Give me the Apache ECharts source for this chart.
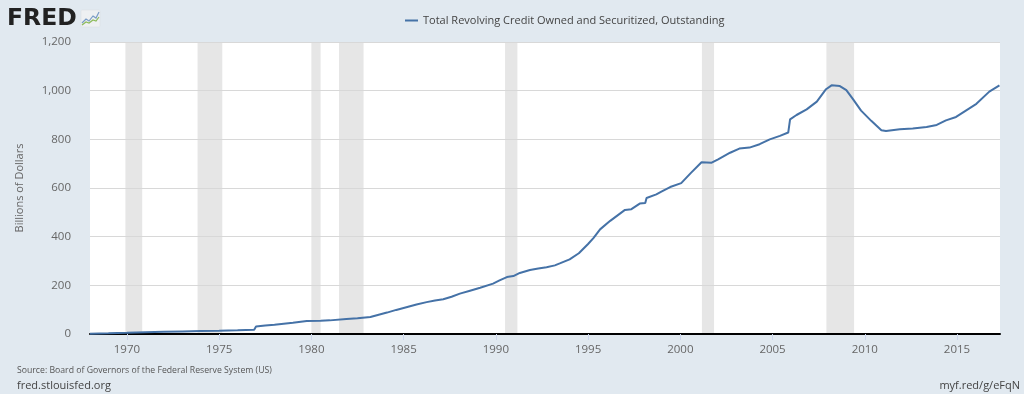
<!DOCTYPE html>
<html>
<head>
<meta charset="utf-8">
<script src="https://cdn.jsdelivr.net/npm/echarts@6/dist/echarts.min.js"></script>
<style>
html,body{margin:0;padding:0;background:#e1e9f0;}
#chart{width:1024px;height:394px;}
</style>
</head>
<body>
<div id="chart"></div>
<script>
// ---- data ----
const seriesName = 'Total Revolving Credit Owned and Securitized, Outstanding';
const dates = [1968.0,1969.0,1970.0,1971.0,1972.0,1973.0,1974.0,1975.0,1976.0,1976.9,1977.0,1977.5,1978.0,1978.5,1979.0,1979.75,1980.5,1981.0,1981.9,1982.5,1983.2,1983.6,1984.1,1984.6,1985.2,1985.7,1986.25,1986.7,1987.15,1987.6,1988.05,1988.6,1989.15,1989.85,1990.2,1990.6,1990.95,1991.3,1991.85,1992.3,1992.75,1993.2,1993.5,1994.0,1994.5,1995.0,1995.3,1995.65,1996.2,1996.8,1997.0,1997.35,1997.8,1998.1,1998.17,1998.7,1999.0,1999.45,2000.05,2000.55,2001.15,2001.7,2002.05,2002.7,2003.2,2003.75,2004.3,2004.85,2005.4,2005.85,2005.95,2006.3,2006.85,2007.4,2007.9,2008.2,2008.65,2009.0,2009.35,2009.8,2010.35,2010.9,2011.15,2011.9,2012.6,2013.35,2013.9,2014.4,2014.95,2015.5,2016.05,2016.75,2017.3];
const values = [1.5,3,5,7.5,9,10.5,12,13.5,15.5,17.5,31,35,38,42,46,53,54,56,62,65,70,78,88,99,111,121,131,138,143,153,166,178,190,207,220,234,238,251,263,269,274,282,291,307,332,370,395,430,465,499,510,513,536,538,559,574,586,604,620,660,706,704,718,745,762,766,780,800,814,828,882,900,923,955,1006,1022,1019,1002,966,918,876,837,834,841,845,851,859,878,892,919,946,996,1022];
const recessionStart = [1969.92,1973.83,1980.0,1981.5,1990.5,2001.17,2007.92];
const recessionEnd   = [1970.83,1975.17,1980.5,1982.83,1991.17,2001.83,2009.42];
const xTickYears = [1970,1975,1980,1985,1990,1995,2000,2005,2010,2015];
const yTicks = [0,200,400,600,800,1000,1200];

const FONT = '"Open Sans", "DejaVu Sans", sans-serif';
const chart = echarts.init(document.getElementById('chart'), null, {renderer:'canvas'});

const lineData = dates.map((d,i)=>[d, values[i]]);
const bands = recessionStart.map((s,i)=>[{xAxis:s},{xAxis:recessionEnd[i]}]);

chart.setOption({
  backgroundColor:'#e1e9f0',
  animation:false,
  textStyle:{fontFamily:FONT},
  grid:{left:90,right:24,top:42,bottom:60,show:true,backgroundColor:'#ffffff',borderWidth:0},
  legend:{
    data:[seriesName], left:400, top:10, icon:'rect', itemWidth:13, itemHeight:2, itemGap:5,
    textStyle:{fontFamily:FONT,fontSize:11,color:'#444'}
  },
  xAxis:{
    type:'value', min:1968, max:2017.33, z:3,
    splitLine:{show:false},
    axisLine:{show:true,onZero:false,lineStyle:{color:'#000',width:2}},
    axisTick:{show:true,customValues:xTickYears,length:6,lineStyle:{color:'#ccd6eb',width:1}},
    axisLabel:{customValues:xTickYears,formatter:v=>String(Math.round(v)),color:'#666',fontSize:11.5,margin:10,fontFamily:FONT}
  },
  yAxis:{
    type:'value', min:yTicks[0], max:yTicks[yTicks.length-1], interval:200, z:3,
    name:'Billions of Dollars', nameLocation:'middle', nameGap:65,
    nameTextStyle:{fontFamily:FONT,fontSize:11,color:'#666'},
    axisLine:{show:false}, axisTick:{show:false},
    axisLabel:{color:'#666',fontSize:11.5,margin:19,fontFamily:FONT,formatter:v=>v.toLocaleString('en-US')},
    splitLine:{show:true,lineStyle:{color:'#d8d8d8',width:1}}
  },
  series:[{
    name:'recessions', type:'line', data:[], z:1, silent:true,
    markArea:{silent:true,itemStyle:{color:'#e6e6e6'},data:bands}
  },{
    name:seriesName, type:'line', data:lineData, showSymbol:false, symbol:'none',
    lineStyle:{color:'#4572a7',width:2}, itemStyle:{color:'#4572a7'}, z:5
  }],
  graphic:[
    {type:'text',left:7,top:7,style:{text:'FRED',fontFamily:'"DejaVu Sans", sans-serif',fontWeight:'bold',fontSize:23.5,fill:'#222'}},
    {type:'rect',shape:{x:81,y:10,width:19,height:17,r:1},style:{fill:'#eef0f2',stroke:'#d8dde2',lineWidth:0.5}},
    {type:'polyline',shape:{points:[[82,23],[86,19],[89,21],[93,16],[96,18],[99,12]]},style:{stroke:'#7a9cc6',lineWidth:1.2,fill:null}},
    {type:'polyline',shape:{points:[[82,25],[86,22],[89,23],[93,20],[96,21],[99,17]]},style:{stroke:'#8dbb5a',lineWidth:1.2,fill:null}},
    {type:'text',left:17,top:366,style:{text:'Source: Board of Governors of the Federal Reserve System (US)',fontFamily:FONT,fontSize:8.7,fill:'#555'}},
    {type:'text',left:17,top:380,style:{text:'fred.stlouisfed.org',fontFamily:FONT,fontSize:11,fill:'#444'}},
    {type:'text',right:4,top:380,style:{text:'myf.red/g/eFqN',fontFamily:FONT,fontSize:11,fill:'#444'}}
  ]
});
</script>
</body>
</html>
